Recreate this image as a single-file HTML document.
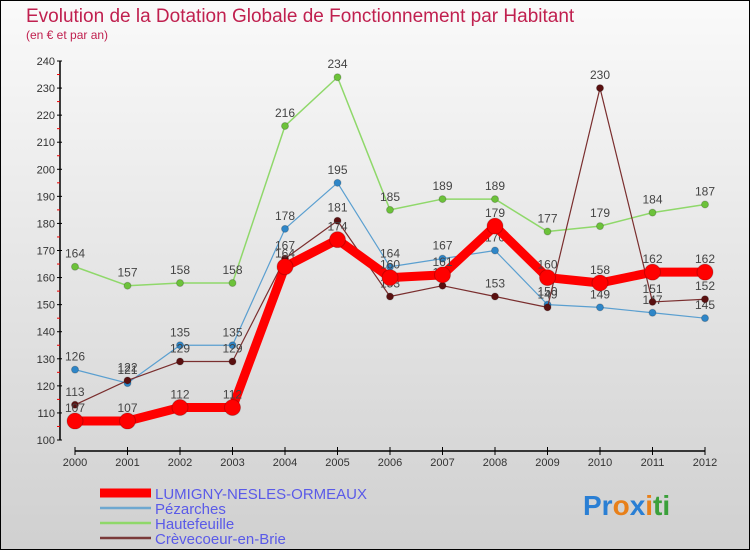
<!DOCTYPE html>
<html><head><meta charset="utf-8"><style>
body{margin:0;width:750px;height:550px;overflow:hidden;font-family:"Liberation Sans",sans-serif}
#c{position:absolute;left:0;top:0}
</style></head><body>
<svg id="c" width="750" height="550" xmlns="http://www.w3.org/2000/svg">
<defs><linearGradient id="bg" x1="0" y1="0" x2="0" y2="1"><stop offset="0" stop-color="#fafafa"/><stop offset="1" stop-color="#d0d0d0"/></linearGradient></defs>
<rect x="0.5" y="0.5" width="749" height="549" fill="url(#bg)" stroke="#000"/>
<text x="26" y="22" font-size="19" fill="#c0204f">Evolution de la Dotation Globale de Fonctionnement par Habitant</text>
<text x="26" y="39" font-size="12" fill="#c0204f">(en € et par an)</text>
<g id="axes"></g><g id="series"></g><g id="legend"></g>
<text x="583" y="515" font-size="28" font-weight="bold"><tspan fill="#2a7fd4">Pr</tspan><tspan fill="#e8801a">o</tspan><tspan fill="#2a7fd4">x</tspan><tspan fill="#e8801a">i</tspan><tspan fill="#3aa03a">ti</tspan></text>
</svg>
<script>
const years=[2000,2001,2002,2003,2004,2005,2006,2007,2008,2009,2010,2011,2012];
const yTicks=[100,110,120,130,140,150,160,170,180,190,200,210,220,230,240];
const lumigny=[107,107,112,112,164,174,160,161,179,160,158,162,162];
const pezarches=[126,121,135,135,178,195,164,167,170,150,149,147,145];
const hautefeuille=[164,157,158,158,216,234,185,189,189,177,179,184,187];
const crevecoeur=[113,122,129,129,167,181,153,157,153,149,230,151,152];
const names=["LUMIGNY-NESLES-ORMEAUX","Pézarches","Hautefeuille","Crèvecoeur-en-Brie"];
const NS="http://www.w3.org/2000/svg";
function X(i){return 75+i*(705-75)/(years.length-1);}
function Y(v){return 440-(v-100)*(440-61)/140;}
function mk(t,a,p){const e=document.createElementNS(NS,t);for(const k in a)e.setAttribute(k,a[k]);p.appendChild(e);return e;}
const ax=document.getElementById('axes');
let e=mk('line',{x1:60,y1:61,x2:60,y2:440,stroke:'#000','stroke-width':1.5},ax);


yTicks.forEach(v=>{
 mk('line',{x1:57,y1:Y(v),x2:62,y2:Y(v),stroke:'#000'},ax);
 if(v<240)mk('line',{x1:57,y1:Y(v+5),x2:60,y2:Y(v+5),stroke:'#e00'},ax);
 const t=mk('text',{x:55,y:Y(v)+4,'font-size':11,fill:'#333','text-anchor':'end'},ax);t.textContent=v;
 
 
});
e=mk('line',{x1:75,y1:451,x2:705,y2:451,stroke:'#000','stroke-width':1.5},ax);


years.forEach((y,i)=>{
 mk('line',{x1:X(i),y1:447,x2:X(i),y2:455,stroke:'#000'},ax);
 const t=mk('text',{x:X(i),y:466,'font-size':11,fill:'#333','text-anchor':'middle'},ax);t.textContent=y;
 
 
});
const sg=document.getElementById('series');
const defs=[[hautefeuille,'#8fd86a','#6cc23a',1.5,3.5,'hautefeuille'],[pezarches,'#5a9fd0','#2e86c8',1.2,3.5,'pezarches'],[crevecoeur,'#7a2e2e','#5a1010',1.2,3.5,'crevecoeur-en-brie'],[lumigny,'#f00','#f00',9,8,'lumigny']];
defs.forEach(([d,lc,pc,w,r,n])=>{
 const g=mk('g',{},sg);
 
 
 const l=mk('polyline',{points:d.map((v,i)=>X(i)+','+Y(v)).join(' '),fill:'none',stroke:lc,'stroke-width':w,'stroke-linejoin':'round'},g);
 
 
 d.forEach((v,i)=>{
  const c=mk('circle',{cx:X(i),cy:Y(v),r:r,fill:pc,stroke:'rgba(0,0,0,0.2)'},g);
  
  
  const t=mk('text',{x:X(i),y:Y(v)-9,'font-size':12,fill:'#444','text-anchor':'middle'},g);t.textContent=v;
  
  
 });
});
const lg=document.getElementById('legend');
const lcol=['#f00','#6ea8d0','#8fd86a','#7a3a3a'],lw=[9,2.5,2.5,2.5];
names.forEach((n,i)=>{
 const y=493+i*15;
 const g=mk('g',{},lg);
 
 
 mk('line',{x1:100,y1:y,x2:151,y2:y,stroke:lcol[i],'stroke-width':lw[i]},g);
 const t=mk('text',{x:155,y:y+6,'font-size':15,fill:'#5a5ae8'},g);t.textContent=n;
});
</script>
</body></html>
